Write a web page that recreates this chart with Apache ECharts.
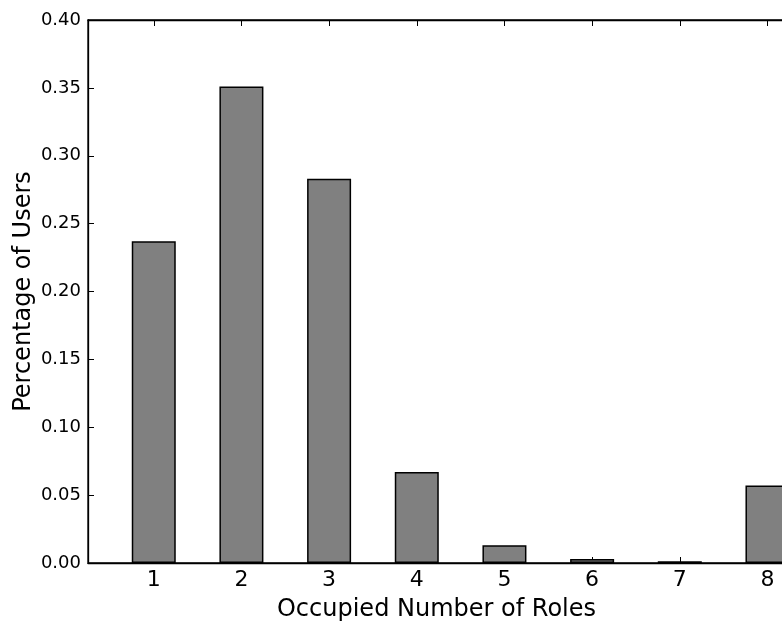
<!DOCTYPE html>
<html>
<head>
<meta charset="utf-8">
<script src="https://cdn.jsdelivr.net/npm/echarts@6/dist/echarts.min.js"></script>
<style>
html,body{margin:0;padding:0;background:#fff;overflow:hidden;width:782px;height:626px;}
#chart{width:800px;height:626px;}
</style>
</head>
<body>
<div id="chart"></div>
<script>
const categories = [1, 2, 3, 4, 5, 6, 7, 8];
const values = [0.237, 0.351, 0.283, 0.067, 0.013, 0.003, 0.0012, 0.057];
const xTitle = 'Occupied Number of Roles';
const yTitle = 'Percentage of Users';

const chart = echarts.init(document.getElementById('chart'), null, {renderer: 'canvas'});
const font = 'DejaVu Sans';
const axisLine = {show: true, lineStyle: {color: '#000', width: 1.3}};
chart.setOption({
  animation: false,
  backgroundColor: '#fff',
  grid: {left: 88, top: 20, right: 15, bottom: 63, show: true, borderColor: '#000', borderWidth: 1.3, containLabel: false, outerBoundsMode: 'none'},
  xAxis: [{
    type: 'value', min: 0.25, max: 8.2,
    position: 'bottom',
    axisLine: axisLine,
    axisTick: {show: true, inside: true, length: 6, lineStyle: {color: '#000', width: 1}, customValues: categories},
    axisLabel: {show: true, customValues: categories, color: '#000', fontFamily: font, fontSize: 22, margin: 6},
    splitLine: {show: false},
    name: xTitle, nameLocation: 'middle', nameGap: 35, nameMoveOverlap: false,
    nameTextStyle: {color: '#000', fontFamily: font, fontSize: 24}
  }, {
    type: 'value', min: 0.25, max: 8.2,
    position: 'top',
    axisLine: axisLine,
    axisTick: {show: true, inside: true, length: 6, lineStyle: {color: '#000', width: 1}, customValues: categories},
    axisLabel: {show: false},
    splitLine: {show: false}
  }],
  yAxis: {
    type: 'value', min: 0, max: 0.4, interval: 0.05,
    axisLine: axisLine,
    axisTick: {show: true, inside: true, length: 6, lineStyle: {color: '#000', width: 1}},
    axisLabel: {color: '#000', fontFamily: font, fontSize: 18, margin: 7, formatter: v => v.toFixed(2)},
    splitLine: {show: false},
    name: yTitle, nameLocation: 'middle', nameGap: 52, nameMoveOverlap: false,
    nameTextStyle: {color: '#000', fontFamily: font, fontSize: 24}
  },
  series: [{
    type: 'bar',
    xAxisIndex: 0,
    data: categories.map((c, i) => [c, values[i]]),
    barWidth: 44,
    clip: true,
    itemStyle: {color: '#808080', borderColor: '#000', borderWidth: 1.5}
  }]
});
</script>
</body>
</html>
